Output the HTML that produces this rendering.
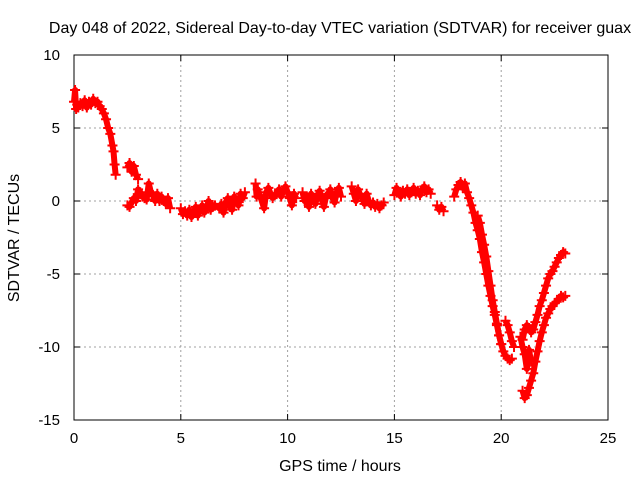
<!DOCTYPE html>
<html><head><meta charset="utf-8"><style>
html,body{margin:0;padding:0;background:#fff}
svg{display:block;font-family:"Liberation Sans",sans-serif}
</style></head><body>
<svg id="chart" width="640" height="480">
<text x="340" y="33" text-anchor="middle" font-size="16">Day 048 of 2022, Sidereal Day-to-day VTEC variation (SDTVAR) for receiver guax</text>
<text x="340" y="471" text-anchor="middle" font-size="16">GPS time / hours</text>
<text transform="translate(19,238) rotate(-90)" text-anchor="middle" font-size="16">SDTVAR / TECUs</text>
<g id="grid"></g><g id="axes"></g><g id="marks"></g>
</svg>
<script>
const xTicks=[0,5,10,15,20,25];
const yTicks=[10,5,0,-5,-10,-15];
const seg1x=[0,0.05,0.1,0.15,0.2,0.3,0.4,0.5,0.6,0.7,0.8,0.9,1.0,1.1,1.2,1.3,1.4,1.5,1.6,1.7,1.8,1.85,1.9,1.95];
const seg1y=[6.8,7.6,6.3,6.6,6.4,6.7,6.5,6.9,6.4,6.8,6.6,7.0,6.7,6.8,6.5,6.3,6.0,5.6,5.0,4.6,3.8,3.4,2.5,1.8];
const seg2x=[2.5,2.6,2.7,2.8,2.9,3.0];
const seg2y=[2.3,2.6,2.0,2.4,1.8,1.5];
const seg3x=[2.5,2.6,2.7,2.8,2.9,3.0,3.1,3.2,3.3,3.4,3.5,3.6,3.7,3.8,3.9,4.0,4.1,4.2,4.3,4.4,4.5];
const seg3y=[-0.3,-0.4,-0.1,0.2,0,0.8,0.6,0.3,0.2,0.1,1.2,0.6,0.4,0,0.5,0,0.3,0,-0.2,0.2,-0.5];
const seg4x=[5.0,5.1,5.2,5.3,5.4,5.5,5.6,5.7,5.8,5.9,6.0,6.1,6.2,6.3,6.4,6.5,6.6,6.8,6.9,7.0,7.1,7.2,7.3,7.4,7.5,7.6,7.7,7.8,7.9,8.0];
const seg4y=[-0.5,-0.9,-0.7,-1.0,-0.6,-1.1,-0.8,-0.4,-1.0,-0.6,-0.3,-0.8,-0.5,0,-0.6,-0.4,-0.3,-0.5,-0.2,-0.8,-0.1,0.2,-0.4,-0.6,0.3,0,-0.3,0.5,0.2,0.6];
const seg5x=[8.5,8.55,8.6,8.7,8.9,9.0,9.1,9.2,9.3,9.4,9.6,9.7,9.8,9.9,10.0,10.1,10.2,10.3,10.4];
const seg5y=[1.2,0.3,0.8,0.4,-0.5,0.6,0.9,0.5,0.2,0.4,0.8,0.3,0.7,1.0,0.6,0.2,-0.3,0.5,0.2];
const seg6x=[10.7,10.8,10.9,11.0,11.1,11.2,11.3,11.4,11.5,11.6,11.7,11.8,11.9,12.0,12.1,12.2,12.3,12.4,12.5];
const seg6y=[0.6,0,0.3,-0.4,0.5,0.1,-0.2,0.4,0.7,0.1,-0.4,0.3,0.5,0.8,0.2,-0.1,0.6,0.9,0.3];
const seg7x=[13.0,13.1,13.2,13.3,13.4,13.5,13.6,13.7,13.8,13.9,14.0,14.1,14.2,14.3,14.4,14.5];
const seg7y=[1.0,0.5,0,0.8,0.4,0.2,-0.2,0.5,0,-0.3,-0.1,-0.4,-0.2,-0.5,-0.3,-0.1];
const seg8x=[15.0,15.1,15.2,15.3,15.4,15.5,15.6,15.7,15.8,15.9,16.0,16.1,16.2,16.3,16.4,16.5,16.6,16.7];
const seg8y=[0.4,0.9,0.6,0.3,0.7,0.5,0.8,0.4,0.6,0.9,0.5,0.7,0.4,0.8,1.0,0.6,0.8,0.5];
const seg9x=[17.0,17.1,17.2,17.3];
const seg9y=[-0.3,-0.6,-0.4,-0.7];
const seg10x=[17.8,17.9,18.0,18.1,18.2,18.3,18.4,18.5,18.6,18.7,18.8,18.9,19.0,19.1,19.2,19.3,19.4,19.5,19.6,19.7,19.8,19.9,20.0,20.1,20.2,20.3,20.4,20.5];
const seg10y=[0.3,0.8,1.1,1.3,0.9,1.2,0.6,0.2,-0.3,-0.8,-1.5,-2.0,-2.6,-3.5,-4.2,-5.0,-5.8,-6.5,-7.2,-7.8,-8.5,-9.2,-9.8,-10.3,-10.6,-10.8,-10.9,-10.8];
const seg11x=[18.9,19.0,19.1,19.2,19.3,19.4,19.5,19.6,19.7,19.8,19.9,20.0];
const seg11y=[-1.0,-1.5,-2.3,-3.0,-3.8,-4.8,-5.8,-6.8,-7.6,-8.4,-9.2,-9.8];
const seg15x=[20.2,20.3,20.4,20.5,20.6];
const seg15y=[-8.2,-8.5,-9.0,-9.6,-10.0];
const seg12x=[21.0,21.1,21.2,21.3,21.4,21.5,21.6,21.7,21.8,21.9,22.0,22.1,22.2,22.3,22.4,22.5,22.6,22.7,22.8,22.9,23.0];
const seg12y=[-9.5,-8.8,-8.5,-8.7,-9.0,-8.8,-8.3,-7.8,-7.2,-6.8,-6.3,-5.8,-5.3,-5.0,-4.8,-4.5,-4.2,-3.9,-3.7,-3.5,-3.6];
const seg13x=[21.0,21.1,21.2,21.3,21.4,21.5,21.6,21.7,21.8,21.9,22.0,22.1,22.2,22.3,22.4,22.5,22.6,22.7,22.8,22.9,23.0];
const seg13y=[-13.0,-13.5,-13.3,-12.8,-12.3,-11.8,-11.0,-10.3,-9.6,-9.0,-8.5,-8.0,-7.7,-7.4,-7.2,-7.0,-6.9,-6.7,-6.5,-6.6,-6.5];
const seg14x=[20.9,21.0,21.1,21.2,21.3,21.4];
const seg14y=[-9.3,-10.0,-10.5,-11.5,-10.2,-11.0];
const tracks=[[seg1x,seg1y],[seg2x,seg2y],[seg3x,seg3y],[seg4x,seg4y],[seg5x,seg5y],[seg6x,seg6y],[seg7x,seg7y],[seg8x,seg8y],[seg9x,seg9y],[seg10x,seg10y],[seg11x,seg11y],[seg15x,seg15y],[seg12x,seg12y],[seg13x,seg13y],[seg14x,seg14y]];

const L=74,R=608,T=55,B=420;
const sx=v=>L+(v-0)/(25-0)*(R-L);
const sy=v=>B-(v-(-15))/(10-(-15))*(B-T);
const NS="http://www.w3.org/2000/svg";
function mk(tag,parent){const e=document.createElementNS(NS,tag);parent.appendChild(e);return e;}
const grid=document.getElementById('grid'),axes=document.getElementById('axes'),marks=document.getElementById('marks');

xTicks.forEach(t=>{
  const x=sx(t);
  if(t>0&&t<25){const g=mk('line',grid);
    
    
    g.setAttribute('x1',x);g.setAttribute('x2',x);g.setAttribute('y1',T);g.setAttribute('y2',B);
    g.setAttribute('stroke','#a0a0a0');g.setAttribute('stroke-dasharray','2,3');}
  [[B,B-6],[T,T+6]].forEach(p=>{const k=mk('line',axes);
    
    
    k.setAttribute('x1',x);k.setAttribute('x2',x);k.setAttribute('y1',p[0]);k.setAttribute('y2',p[1]);k.setAttribute('stroke','#000');});
  const tx=mk('text',axes);
  
  
  tx.setAttribute('x',x);tx.setAttribute('y',B+23);tx.setAttribute('text-anchor','middle');tx.setAttribute('font-size','15');tx.textContent=t;
});
yTicks.forEach(t=>{
  const y=sy(t);
  if(t>-15&&t<10){const g=mk('line',grid);
    
    
    g.setAttribute('x1',L);g.setAttribute('x2',R);g.setAttribute('y1',y);g.setAttribute('y2',y);
    g.setAttribute('stroke','#a0a0a0');g.setAttribute('stroke-dasharray','2,3');}
  [[L,L+6],[R,R-6]].forEach(p=>{const k=mk('line',axes);
    
    
    k.setAttribute('x1',p[0]);k.setAttribute('x2',p[1]);k.setAttribute('y1',y);k.setAttribute('y2',y);k.setAttribute('stroke','#000');});
  const tx=mk('text',axes);
  
  
  tx.setAttribute('x',L-14);tx.setAttribute('y',y+5);tx.setAttribute('text-anchor','end');tx.setAttribute('font-size','15');tx.textContent=t;
});
const fr=mk('rect',axes);


fr.setAttribute('x',L);fr.setAttribute('y',T);fr.setAttribute('width',R-L);fr.setAttribute('height',B-T);fr.setAttribute('fill','none');fr.setAttribute('stroke','#000');

tracks.forEach(tr=>{
  const xs=tr[0],ys=tr[1];
  const pl=mk('polyline',marks);
  
  
  pl.setAttribute('points',xs.map((v,i)=>sx(v)+','+sy(ys[i])).join(' '));
  pl.setAttribute('fill','none');pl.setAttribute('stroke','#f00');pl.setAttribute('stroke-width','6');pl.setAttribute('stroke-linejoin','round');
  xs.forEach((v,i)=>{
    const x=sx(v),y=sy(ys[i]);
    const p=mk('path',marks);
    
    
    p.setAttribute('d',`M${x-5},${y}H${x+5}M${x},${y-5}V${y+5}`);
    p.setAttribute('stroke','#f00');p.setAttribute('stroke-width','2');
  });
});
</script>
</body></html>
